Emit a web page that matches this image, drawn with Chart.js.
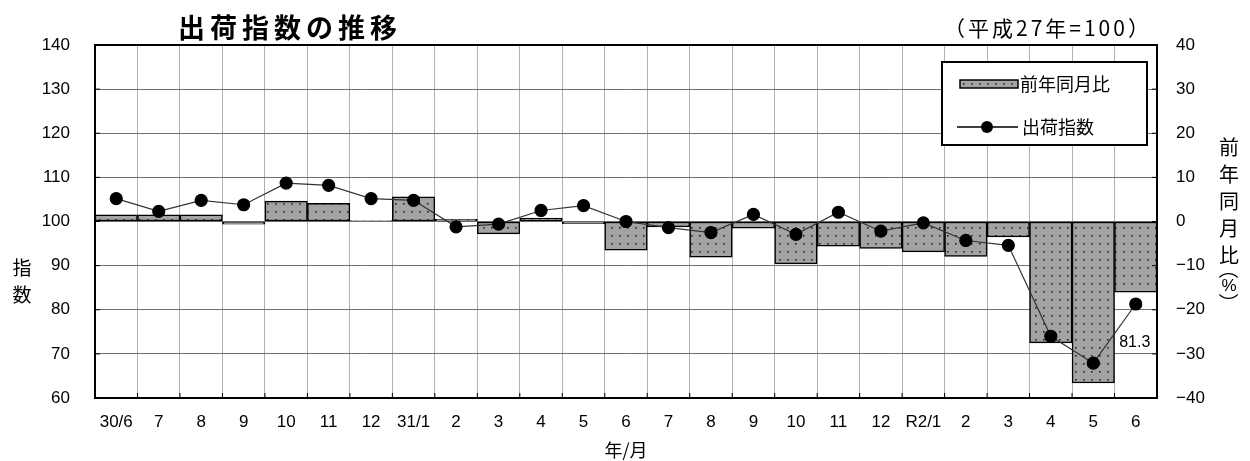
<!DOCTYPE html>
<html lang="ja">
<head>
<meta charset="utf-8">
<script src="https://cdn.jsdelivr.net/npm/chart.js@4"></script>
<style>
  html, body { margin: 0; padding: 0; background: #fff; }
  #wrap { position: relative; width: 1250px; height: 461px; }
</style>
</head>
<body>
<div id="wrap"><canvas id="shipChart" width="1250" height="461"></canvas></div>
<script>
// 出荷指数の推移 — data

const months = ['30/6', '7', '8', '9', '10', '11', '12', '31/1', '2', '3', '4', '5', '6',
    '7', '8', '9', '10', '11', '12', 'R2/1', '2', '3', '4', '5', '6'];

// 出荷指数 (平成27年=100)
const shipIndex = [105.2, 102.3, 104.8, 103.8, 108.7, 108.2, 105.2, 104.8, 98.8, 99.4,
    102.5, 103.6, 100.0, 98.6, 97.5, 101.6, 97.1, 102.1, 97.8, 99.7,
    95.7, 94.6, 74.0, 67.9, 81.3];

// 前年同月比 (%)
const yoyChange = [1.5, 1.5, 1.5, -0.6, 4.6, 4.1, 0.2, 5.6, 0.5, -2.8,
    0.8, -0.5, -6.5, -1.2, -8.1, -1.5, -9.6, -5.6, -6.1, -6.9,
    -7.9, -3.5, -27.5, -36.6, -16.0];

const indexTicks = [60, 70, 80, 90, 100, 110, 120, 130, 140];
const yoyTicks = [-40, -30, -20, -10, 0, 10, 20, 30, 40];

const NUM_FONT = '"Liberation Sans", Arial, sans-serif';
const JP_FONT = '"Noto Sans CJK JP", "Noto Sans", sans-serif';

function dotPattern() {
    const c = document.createElement('canvas');
    c.width = 8; c.height = 8;
    const g = c.getContext('2d');
    g.fillStyle = '#a3a3a3';
    g.fillRect(0, 0, 8, 8);
    g.fillStyle = '#222';
    g.fillRect(3, 3, 1.6, 1.6);
    return g.createPattern(c, 'repeat');
}
const barFill = dotPattern();

// title, axis titles, legend, frame and data label
const decorations = {
    id: 'decorations',
    afterDraw(chart) {
        const { ctx, chartArea: a } = chart;
        ctx.save();

        // frame
        ctx.strokeStyle = '#000';
        ctx.lineWidth = 2;
        ctx.strokeRect(a.left, a.top, a.right - a.left, a.bottom - a.top);

        // inward tick marks
        ctx.lineWidth = 1;
        const yS = chart.scales.y, y1S = chart.scales.y1, xS = chart.scales.x;
        indexTicks.forEach(v => {
            const py = yS.getPixelForValue(v);
            ctx.beginPath(); ctx.moveTo(a.left, py); ctx.lineTo(a.left + 5, py); ctx.stroke();
        });
        yoyTicks.forEach(v => {
            const py = y1S.getPixelForValue(v);
            ctx.beginPath(); ctx.moveTo(a.right - 5, py); ctx.lineTo(a.right, py); ctx.stroke();
        });
        for (let i = 1; i < months.length; i++) {
            const px = (xS.getPixelForValue(i - 1) + xS.getPixelForValue(i)) / 2;
            ctx.beginPath(); ctx.moveTo(px, a.bottom); ctx.lineTo(px, a.bottom - 5); ctx.stroke();
        }

        // title
        ctx.fillStyle = '#000';
        ctx.textBaseline = 'middle';
        ctx.textAlign = 'left';
        ctx.font = 'bold 27px ' + JP_FONT;
        const title = '出荷指数の推移';
        [...title].forEach((ch, i) => ctx.fillText(ch, 178 + i * 32, 28));

        ctx.font = '21px ' + JP_FONT;
        ctx.letterSpacing = '3px';
        ctx.fillText('（平成27年=100）', 944, 28);
        ctx.letterSpacing = '0px';

        // left axis title
        ctx.textAlign = 'center';
        ctx.font = '19px ' + JP_FONT;
        ctx.fillText('指', 22, 268);
        ctx.fillText('数', 22, 295);

        // right axis title
        ctx.font = '20px ' + JP_FONT;
        [...'前年同月比'].forEach((ch, i) => ctx.fillText(ch, 1229, 147 + i * 27));
        [['（', 269], ['）', 303]].forEach(([ch, py]) => {
            ctx.save();
            ctx.translate(1229, py);
            ctx.rotate(Math.PI / 2);
            ctx.fillText(ch, 0, 0);
            ctx.restore();
        });
        ctx.font = '17px ' + NUM_FONT;
        ctx.fillText('%', 1229, 286);

        // x axis title
        ctx.font = '18px ' + JP_FONT;
        ctx.fillText('年/月', (a.left + a.right) / 2, 450);

        // legend box
        const lx = 942, ly = 62, lw = 205, lh = 83;
        ctx.fillStyle = '#fff';
        ctx.fillRect(lx, ly, lw, lh);
        ctx.lineWidth = 2;
        ctx.strokeStyle = '#000';
        ctx.strokeRect(lx, ly, lw, lh);

        ctx.fillStyle = barFill;
        ctx.fillRect(960, 80, 58, 8);
        ctx.lineWidth = 1.5;
        ctx.strokeRect(960, 80, 58, 8);

        ctx.beginPath(); ctx.moveTo(957, 127); ctx.lineTo(1018, 127); ctx.stroke();
        ctx.fillStyle = '#000';
        ctx.beginPath(); ctx.arc(987, 127, 6, 0, Math.PI * 2); ctx.fill();

        ctx.textAlign = 'left';
        ctx.font = '18px ' + JP_FONT;
        ctx.fillText('前年同月比', 1020, 84);
        ctx.fillText('出荷指数', 1022, 127);

        // label on the last point
        const meta = chart.getDatasetMeta(1);
        const last = meta.data[meta.data.length - 1];
        ctx.textAlign = 'center';
        ctx.font = '16px ' + NUM_FONT;
        ctx.fillText(shipIndex[shipIndex.length - 1].toFixed(1), last.x - 1, last.y + 39);

        ctx.restore();
    }
};

new Chart(document.getElementById('shipChart'), {
    data: {
        labels: months,
        datasets: [
            {
                type: 'bar',
                label: '前年同月比',
                data: yoyChange,
                yAxisID: 'y1',
                backgroundColor: barFill,
                borderColor: '#000',
                borderWidth: 1.5,
                borderSkipped: false,
                barPercentage: 1,
                categoryPercentage: 1,
                order: 2,
            },
            {
                type: 'line',
                label: '出荷指数',
                data: shipIndex,
                yAxisID: 'y',
                borderColor: '#333',
                borderWidth: 1.2,
                pointBackgroundColor: '#000',
                pointBorderColor: '#000',
                pointRadius: 6,
                tension: 0,
                order: 1,
            }
        ]
    },
    options: {
        responsive: false,
        animation: false,
        layout: { padding: { top: 45, left: 0, right: 0, bottom: 0 } },
        plugins: { legend: { display: false }, tooltip: { enabled: false } },
        scales: {
            x: {
                grid: { offset: true, color: '#b0b0b0', lineWidth: 1, drawTicks: false },
                border: { color: '#000', width: 2 },
                ticks: {
                    color: '#000', font: { family: NUM_FONT, size: 17 },
                    padding: 14, maxRotation: 0, autoSkip: false
                },
                afterFit: s => { s.height = 63; }
            },
            y: {
                position: 'left',
                min: 60, max: 140,
                grid: { color: '#707070', lineWidth: 1, drawTicks: false },
                border: { color: '#000', width: 2 },
                ticks: {
                    stepSize: 10, color: '#000', padding: 25,
                    font: { family: NUM_FONT, size: 17 }
                },
                afterFit: s => { s.width = 95; }
            },
            y1: {
                position: 'right',
                min: -40, max: 40,
                grid: { drawOnChartArea: false, drawTicks: false },
                border: { color: '#000', width: 2 },
                ticks: {
                    stepSize: 10, color: '#000', padding: 19,
                    font: { family: NUM_FONT, size: 17 },
                    callback: v => v < 0 ? '\u2212' + Math.abs(v) : v
                },
                afterFit: s => { s.width = 93; }
            }
        }
    },
    plugins: [decorations]
});
</script>
</body>
</html>
